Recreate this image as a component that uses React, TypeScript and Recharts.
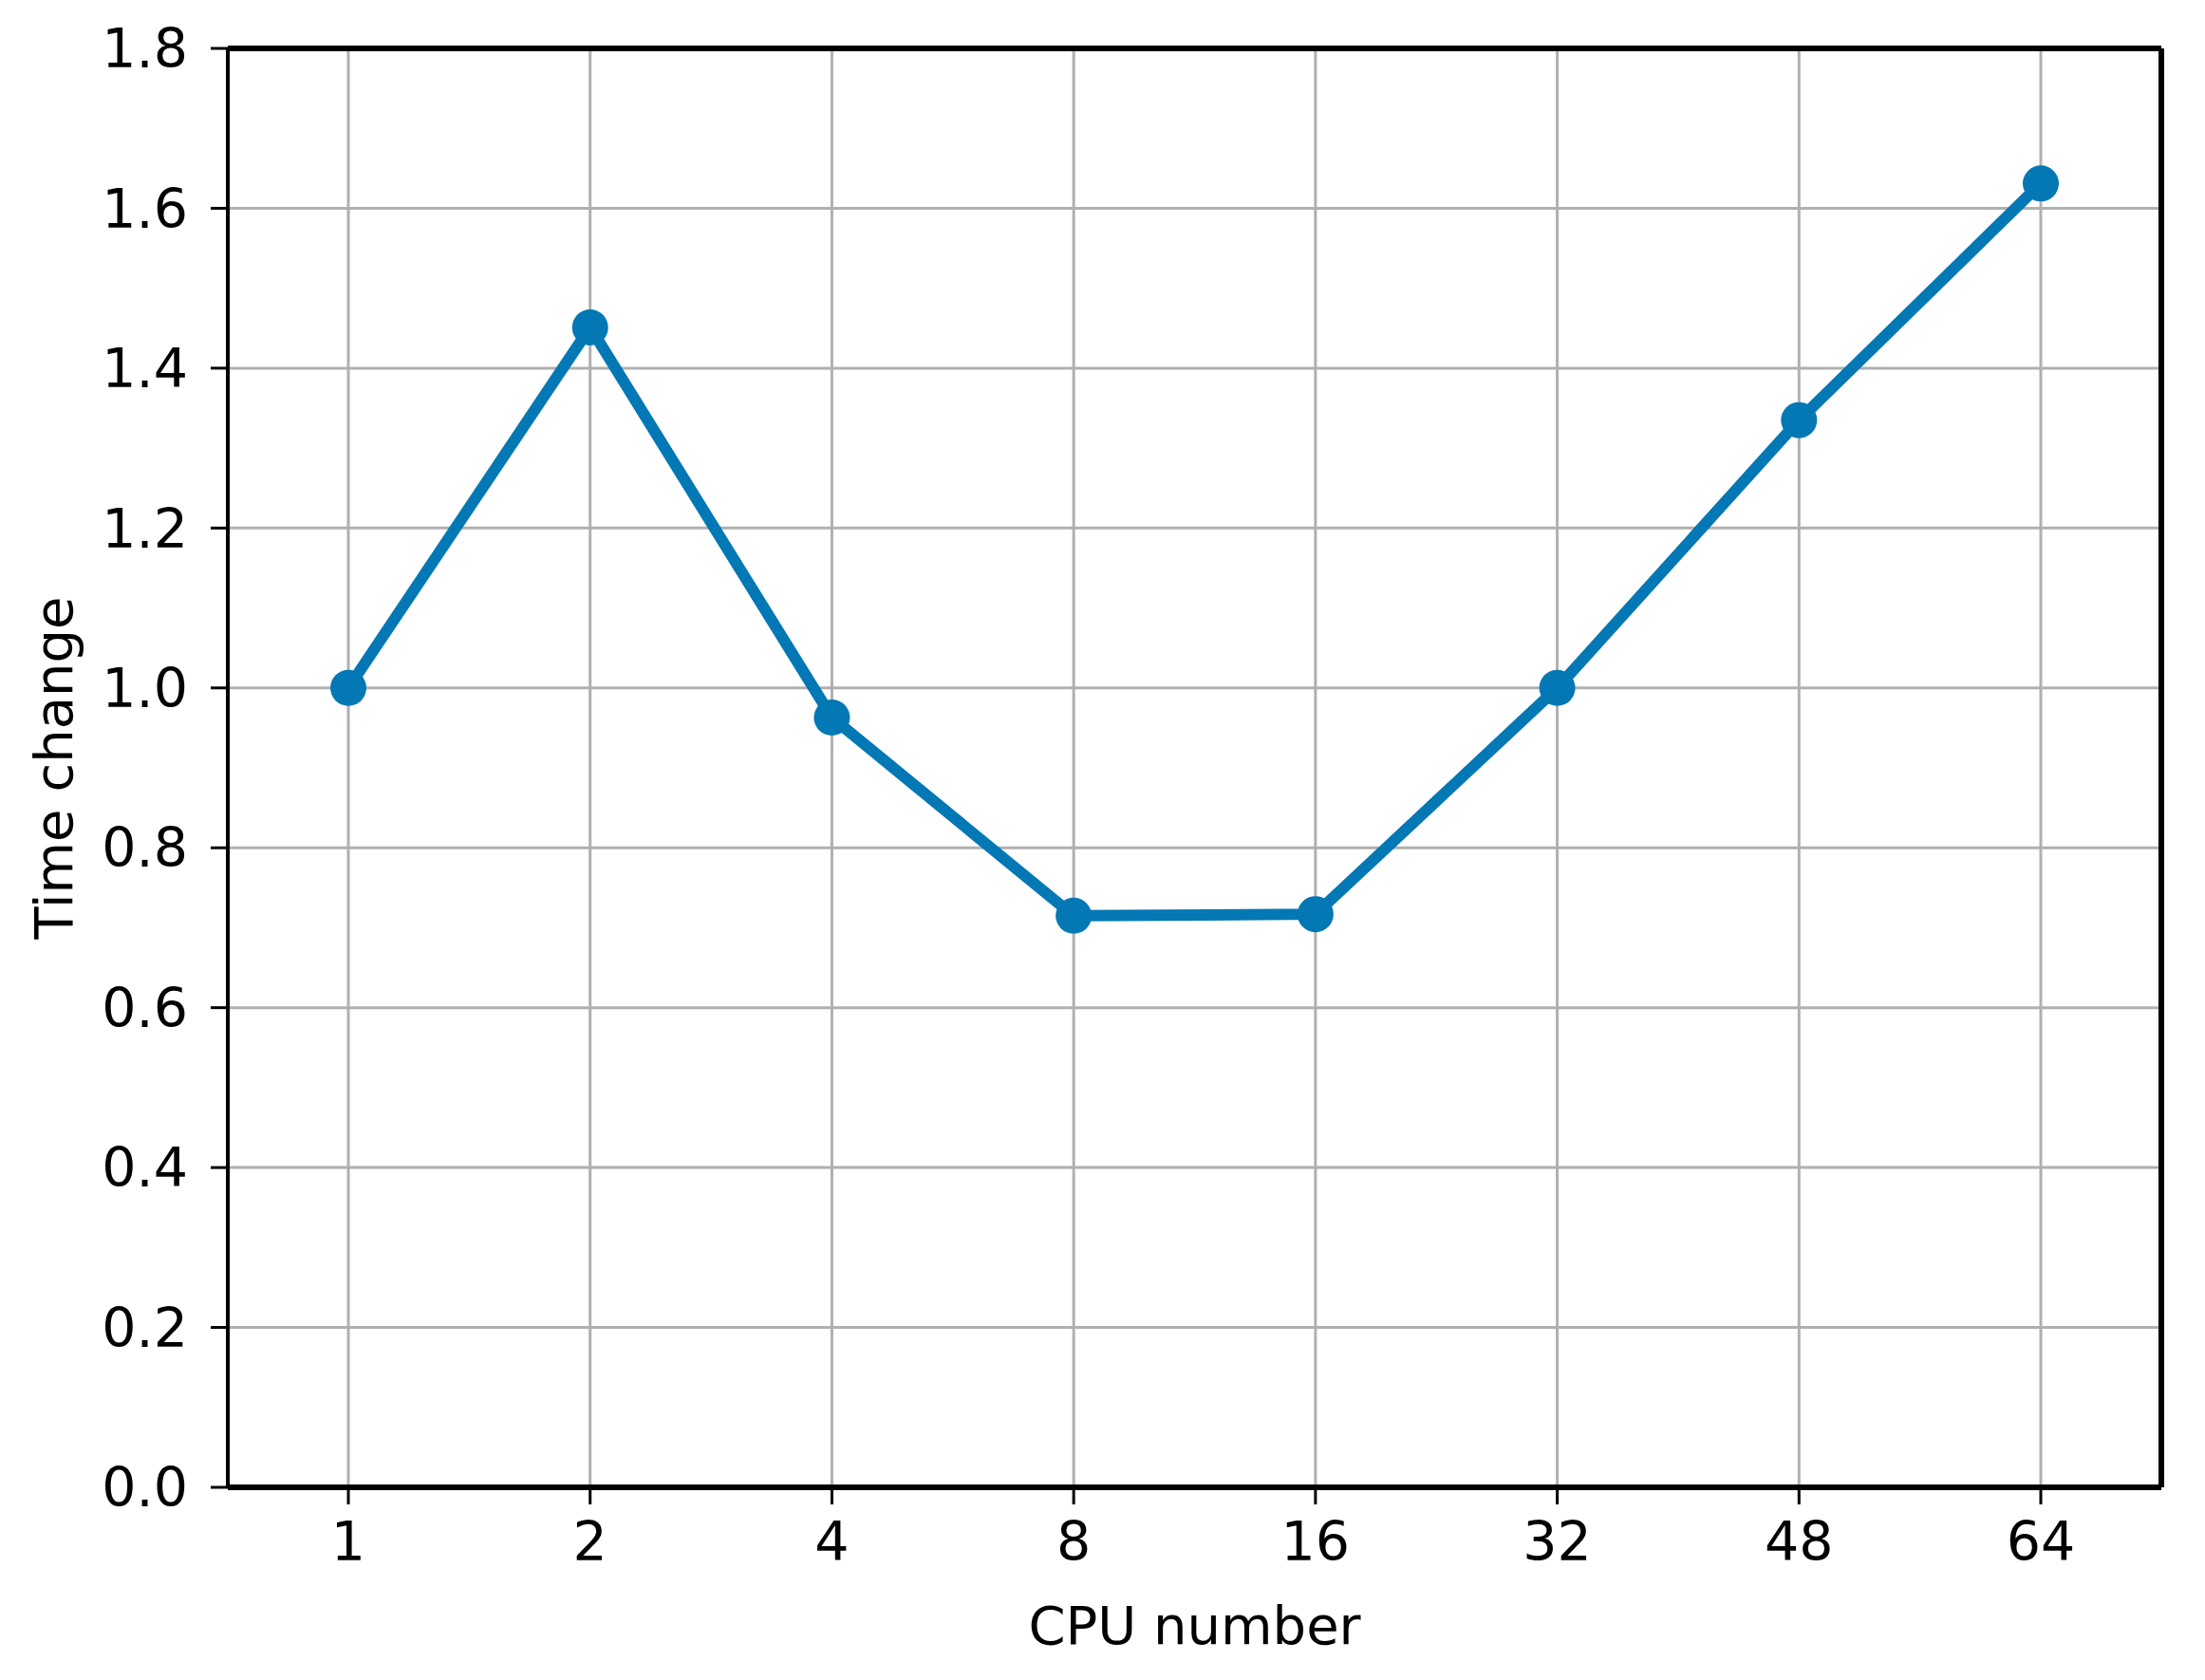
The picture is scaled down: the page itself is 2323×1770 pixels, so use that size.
import {
  CartesianGrid,
  Label,
  Line,
  LineChart,
  XAxis,
  YAxis,
} from 'recharts';

const cpuLabels = ['1', '2', '4', '8', '16', '32', '48', '64'];
const timeChange = [1.0, 1.451, 0.963, 0.715, 0.717, 1.0, 1.335, 1.631];
const yTicks = [0, 0.2, 0.4, 0.6, 0.8, 1.0, 1.2, 1.4, 1.6, 1.8];

const data = cpuLabels.map((cpu, i) => ({ cpu, value: timeChange[i] }));

const FONT = '"DejaVu Sans", sans-serif';
const LINE_COLOR = '#0378b4';
const tickStyle = { fill: '#000000', fontSize: 57, fontFamily: FONT };

export default function App() {
  return (
    <div style={{ position: 'absolute', left: 0, top: 0, background: '#ffffff' }}>
      <LineChart
        width={2323}
        height={1770}
        data={data}
        margin={{ top: 50, right: 45, bottom: 0, left: 0 }}
      >
        <CartesianGrid
          xAxisId="bottom"
          yAxisId="left"
          stroke="#b0b0b0"
          strokeWidth={3}
        />

        <XAxis
          xAxisId="bottom"
          dataKey="cpu"
          height={203}
          padding={{ left: 127, right: 127 }}
          tick={tickStyle}
          tickSize={18}
          tickMargin={19}
          tickLine={{ stroke: '#000000', strokeWidth: 3 }}
          axisLine={{ stroke: '#000000', strokeWidth: 6 }}
        >
          <Label
            value="CPU number"
            position="insideBottom"
            offset={38}
            style={{ fill: '#000000', fontSize: 56, fontFamily: FONT }}
          />
        </XAxis>

        {/* top and right spines of the frame */}
        <XAxis
          xAxisId="top"
          dataKey="cpu"
          orientation="top"
          height={1}
          padding={{ left: 127, right: 127 }}
          tick={false}
          tickLine={false}
          axisLine={{ stroke: '#000000', strokeWidth: 6 }}
        />

        <YAxis
          yAxisId="left"
          width={240}
          domain={[0, 1.8]}
          ticks={yTicks}
          interval={0}
          tickFormatter={(v) => Number(v).toFixed(1)}
          tick={tickStyle}
          tickSize={18}
          tickMargin={24}
          tickLine={{ stroke: '#000000', strokeWidth: 3 }}
          axisLine={{ stroke: '#000000', strokeWidth: 4 }}
        >
          <Label
            value="Time change"
            angle={-90}
            position="insideLeft"
            offset={56}
            style={{ fill: '#000000', fontSize: 56, fontFamily: FONT, textAnchor: 'middle' }}
          />
        </YAxis>

        <YAxis
          yAxisId="right"
          orientation="right"
          width={1}
          domain={[0, 1.8]}
          tick={false}
          tickLine={false}
          axisLine={{ stroke: '#000000', strokeWidth: 6 }}
        />

        {/* invisible series so the frame axes get a domain */}
        <Line
          xAxisId="top"
          yAxisId="right"
          type="linear"
          dataKey="value"
          stroke="none"
          dot={false}
          activeDot={false}
          isAnimationActive={false}
        />

        <Line
          xAxisId="bottom"
          yAxisId="left"
          type="linear"
          dataKey="value"
          stroke={LINE_COLOR}
          strokeWidth={12}
          dot={{ r: 19, fill: LINE_COLOR, stroke: 'none' }}
          activeDot={false}
          isAnimationActive={false}
        />
      </LineChart>
    </div>
  );
}
